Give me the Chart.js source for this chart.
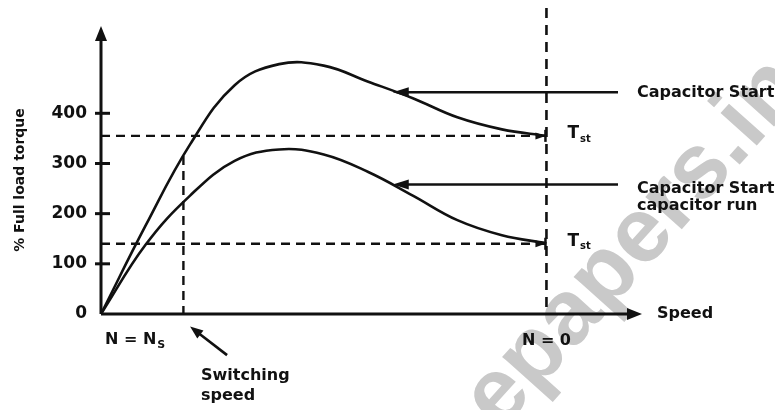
<!DOCTYPE html>
<html>
<head>
<meta charset="utf-8">
<title>Torque speed characteristics</title>
<script src="https://cdn.jsdelivr.net/npm/chart.js@4.4.1/dist/chart.umd.min.js"></script>
<style>
  html, body { margin: 0; padding: 0; background: #fff; }
  #chart-box { width: 775px; height: 410px; }
</style>
</head>
<body>
<div id="chart-box"><canvas id="torque-chart" width="775" height="410"></canvas></div>
<script>
'use strict';

// *************** GLOBALS - CHART DATA
// speed is plotted so that 0 = synchronous (N = Ns) and 100 = standstill (N = 0)
let speedPoints = [0, 10, 20, 30, 40, 50, 60, 70, 80, 90, 100];
let torqueStart = [0, 176, 338, 456, 498, 495, 463, 430, 392, 368, 355];
let torqueRun = [0, 138, 236, 305, 328, 318, 283, 236, 187, 157, 141];

let yTicks = [0, 100, 200, 300, 400];
let seriesNames = ['Capacitor Start', 'Capacitor Start\ncapacitor run'];
let startTorques = [355, 140];
let labelArrowTorques = [442, 258];
let labelArrowSpeed = 65.5;
let switchSpeed = 18.5;
let switchTorque = 315;
let standstillSpeed = 100;

// ****************** CANVAS ELEMENT FOR CHART ************
let ctx = document.getElementById('torque-chart');

// ***************** HELPER FUNCTIONS UTILITIES
const FONT = '"DejaVu Sans", "Liberation Sans", sans-serif';

function toPoints(xs, ys) {
  let pts = [];
  for (let i = 0; i < xs.length; i++) {
    pts.push({ x: xs[i], y: ys[i] });
  }
  return pts;
}

function arrowHead(c, tipX, tipY, angle, len, half) {
  let bx = tipX - len * Math.cos(angle);
  let by = tipY - len * Math.sin(angle);
  c.beginPath();
  c.moveTo(tipX, tipY);
  c.lineTo(bx + half * Math.sin(angle), by - half * Math.cos(angle));
  c.lineTo(bx - half * Math.sin(angle), by + half * Math.cos(angle));
  c.closePath();
  c.fill();
}

function line(c, x1, y1, x2, y2, width, dash) {
  c.save();
  c.lineWidth = width;
  c.setLineDash(dash || []);
  c.beginPath();
  c.moveTo(x1, y1);
  c.lineTo(x2, y2);
  c.stroke();
  c.restore();
}

// draws "main" with a small subscript after it, left aligned, middle baseline
function subText(c, main, sub, x, y, size, subSize) {
  c.font = 'bold ' + size + 'px ' + FONT;
  c.textAlign = 'left';
  c.textBaseline = 'middle';
  c.fillText(main, x, y);
  let w = c.measureText(main).width;
  c.font = 'bold ' + subSize + 'px ' + FONT;
  c.fillText(sub, x + w + 1, y + size * 0.3);
}

// *********** PLUGINS TO DRAW AXES AND NOTES **************
let watermarkPlugin = {
  id: 'watermark',
  beforeDraw(chart) {
    let c = chart.ctx;
    c.save();
    c.fillStyle = '#c9c9c9';
    c.translate(500, 432);
    c.rotate(-0.84);
    c.font = 'bold 92px "Liberation Sans", sans-serif';
    c.textAlign = 'left';
    c.textBaseline = 'alphabetic';
    c.fillText('epapers.in', 0, 0);
    c.restore();
  }
};

let notesPlugin = {
  id: 'notes',
  afterDraw(chart) {
    let c = chart.ctx;
    let xs = chart.scales.x;
    let ys = chart.scales.y;
    let x0 = xs.getPixelForValue(0);
    let y0 = ys.getPixelForValue(0);
    let xEnd = xs.getPixelForValue(xs.max);
    let yEnd = ys.getPixelForValue(ys.max);
    let xN0 = xs.getPixelForValue(standstillSpeed);
    let xSw = xs.getPixelForValue(switchSpeed);

    c.save();
    c.strokeStyle = '#111';
    c.fillStyle = '#111';
    c.lineCap = 'butt';

    // dashed guides
    for (let i = 0; i < startTorques.length; i++) {
      let yy = ys.getPixelForValue(startTorques[i]);
      line(c, x0, yy, xN0, yy, 2.4, [9, 6]);
    }
    line(c, xN0, 8, xN0, y0, 2.6, [10, 7]);
    line(c, xSw, ys.getPixelForValue(switchTorque), xSw, y0, 2.4, [9, 6]);

    // axes with arrows
    line(c, x0, y0, x0, yEnd + 4, 3);
    arrowHead(c, x0, yEnd - 2, -Math.PI / 2, 15, 6);
    line(c, x0, y0, xEnd - 4, y0, 3);
    arrowHead(c, xEnd + 2, y0, 0, 15, 6);

    // y ticks and labels
    c.font = 'bold 17px ' + FONT;
    c.textAlign = 'right';
    c.textBaseline = 'middle';
    for (let i = 0; i < yTicks.length; i++) {
      let yy = ys.getPixelForValue(yTicks[i]);
      if (yTicks[i] > 0) {
        line(c, x0 - 6, yy, x0 + 9, yy, 3);
      }
      c.fillText(String(yTicks[i]), 87, yy);
    }

    // markers at curve ends
    for (let i = 0; i < startTorques.length; i++) {
      let yy = ys.getPixelForValue(startTorques[i]);
      arrowHead(c, xN0 - 1, yy, 0, 10, 3.5);
      line(c, xN0 - 1, yy - 6, xN0 - 1, yy + 6, 2.5);
      subText(c, 'T', 'st', xN0 + 21, yy - 2, 17, 10);
    }

    // series label arrows
    let labelY = [];
    let tipX = xs.getPixelForValue(labelArrowSpeed);
    for (let i = 0; i < labelArrowTorques.length; i++) {
      let yy = ys.getPixelForValue(labelArrowTorques[i]);
      line(c, tipX + 8, yy, 618, yy, 2.6);
      arrowHead(c, tipX, yy, Math.PI, 16, 5);
      labelY.push(yy);
    }
    c.font = 'bold 16px ' + FONT;
    c.textAlign = 'left';
    c.textBaseline = 'middle';
    c.fillText(seriesNames[0], 637, labelY[0] + 1);
    let parts = seriesNames[1].split('\n');
    c.fillText(parts[0], 637, labelY[1] + 4);
    c.fillText(parts[1], 637, labelY[1] + 21);

    // axis words
    c.font = 'bold 16px ' + FONT;
    c.fillText('Speed', 657, y0);
    subText(c, 'N = N', 'S', 105, 340, 16, 11);
    c.textAlign = 'center';
    c.font = 'bold 16px ' + FONT;
    c.fillText('N = 0', xN0, 341);

    // switching speed note
    let swTipX = xs.getPixelForValue(20);
    let swTipY = ys.getPixelForValue(-25);
    let tailX = xs.getPixelForValue(28.3);
    let tailY = ys.getPixelForValue(-82);
    let ang = Math.atan2(swTipY - tailY, swTipX - tailX);
    line(c, tailX, tailY, swTipX - 8 * Math.cos(ang), swTipY - 8 * Math.sin(ang), 2.6);
    arrowHead(c, swTipX, swTipY, ang, 13, 5);
    c.textAlign = 'left';
    c.font = 'bold 16px ' + FONT;
    c.fillText('Switching', 201, 376);
    c.fillText('speed', 201, 396);

    // y title
    c.save();
    c.translate(20, 180);
    c.rotate(-Math.PI / 2);
    c.textAlign = 'center';
    c.font = 'bold 14px ' + FONT;
    c.fillText('% Full load torque', 0, 0);
    c.restore();

    c.restore();
  }
};

// *********** HELPER FUNCTION TO RENDER CHART **************
function renderChart() {
  let chartObj = {
    type: 'scatter',
    data: {
      datasets: [{
        label: 'Capacitor Start',
        data: toPoints(speedPoints, torqueStart),
        showLine: true,
        borderColor: '#111',
        borderWidth: 2.6,
        pointRadius: 0,
        tension: 0.4
      },
      {
        label: 'Capacitor Start capacitor run',
        data: toPoints(speedPoints, torqueRun),
        showLine: true,
        borderColor: '#111',
        borderWidth: 2.6,
        pointRadius: 0,
        tension: 0.4
      }]
    },
    options: {
      responsive: false,
      animation: false,
      devicePixelRatio: 1,
      layout: {
        padding: { left: 101, right: 135, top: 28, bottom: 96 }
      },
      plugins: {
        legend: { display: false },
        tooltip: { enabled: false }
      },
      scales: {
        x: { type: 'linear', min: 0, max: 121, display: false },
        y: { type: 'linear', min: 0, max: 570, display: false }
      }
    },
    plugins: [watermarkPlugin, notesPlugin]
  };

  new Chart(ctx, chartObj); // eslint-disable-line
}

// **************** EXECUTABLE CODE
renderChart();
</script>
</body>
</html>
